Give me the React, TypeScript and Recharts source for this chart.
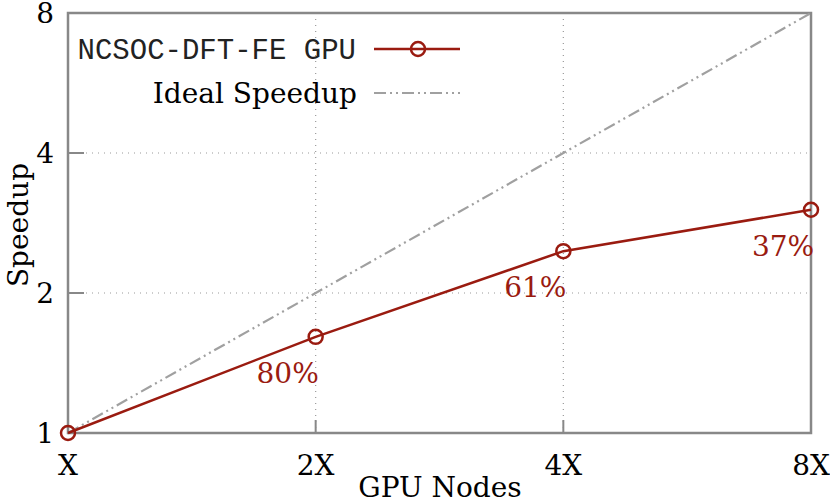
import {
  LineChart,
  Line,
  XAxis,
  YAxis,
  CartesianGrid,
  ReferenceArea,
  LabelList,
} from "recharts";

// GPU node multiples (log2 axis)
const nodes = [1, 2, 4, 8];
const nodeLabels = ["X", "2X", "4X", "8X"];
const measured = [1, 1.61, 2.46, 3.02];
const ideal = [1, 2, 4, 8];
const efficiency = ["", "80%", "61%", "37%"];
const speedupTicks = [1, 2, 4, 8];

const RED = "#9a1b10";
const GREY = "#888888";
const SERIF = "'DejaVu Serif', serif";
const MONO = "'Liberation Mono', monospace";

const data = nodes.map((n, i) => ({
  nodes: n,
  measured: measured[i],
  ideal: ideal[i],
  eff: efficiency[i],
}));

const XTick = (props: any) => {
  const { x, y, payload, index } = props;
  const inner = payload.value !== 1 && payload.value !== 8;
  return (
    <g>
      {inner && <line x1={x} y1={y} x2={x} y2={y - 13} stroke={GREY} strokeWidth={2} />}
      <text x={x} y={y + 42} textAnchor="middle" fontSize={28} fontFamily={SERIF} fill="#000">
        {nodeLabels[index]}
      </text>
    </g>
  );
};

const YTick = (props: any) => {
  const { x, y, payload } = props;
  const inner = payload.value !== 1 && payload.value !== 8;
  return (
    <g>
      {inner && <line x1={x} y1={y} x2={x + 16} y2={y} stroke={GREY} strokeWidth={2} />}
      <text x={x - 14} y={y + 10} textAnchor="end" fontSize={28} fontFamily={SERIF} fill="#000">
        {payload.value}
      </text>
    </g>
  );
};

const EffLabel = (props: any) => {
  const { x, y, value } = props;
  if (!value) return null;
  return (
    <text x={x - 28} y={y + 46} textAnchor="middle" fontSize={28} fontFamily={SERIF} fill={RED}>
      {value}
    </text>
  );
};

export default function App() {
  return (
    <div style={{ position: "relative", width: 830, height: 500 }}>
      <style>{`body{margin:0}`}</style>
      <LineChart
        width={830}
        height={500}
        data={data}
        margin={{ top: 13, right: 19, bottom: 0, left: 0 }}
      >
        <CartesianGrid stroke="#999" strokeDasharray="1 5" strokeWidth={1.2} />
        <XAxis
          dataKey="nodes"
          type="number"
          scale="log"
          domain={[1, 8]}
          ticks={nodes}
          height={67}
          axisLine={false}
          tickLine={false}
          tickSize={0}
          tickMargin={0}
          tick={<XTick />}
          interval={0}
        />
        <YAxis
          type="number"
          scale="log"
          domain={[1, 8]}
          ticks={speedupTicks}
          width={68}
          axisLine={false}
          tickLine={false}
          tickSize={0}
          tickMargin={0}
          tick={<YTick />}
          interval={0}
        />
        <ReferenceArea
          x1={1}
          x2={8}
          y1={1}
          y2={8}
          fill="none"
          fillOpacity={0}
          stroke={GREY}
          strokeWidth={2.5}
        />
        <Line
          dataKey="ideal"
          stroke="#a0a0a0"
          strokeWidth={2.2}
          strokeDasharray="12 4 2 4 2 4"
          dot={false}
          isAnimationActive={false}
        />
        <Line
          dataKey="measured"
          stroke={RED}
          strokeWidth={2.5}
          dot={{ r: 7, stroke: RED, strokeWidth: 2.5, fill: "none" }}
          isAnimationActive={false}
        >
          <LabelList dataKey="eff" content={<EffLabel />} />
        </Line>
      </LineChart>
      <svg
        width={830}
        height={500}
        style={{ position: "absolute", left: 0, top: 0, pointerEvents: "none" }}
      >
        <text x={356} y={59} textAnchor="end" fontSize={29} fontFamily={MONO} fill="#222">
          NCSOC-DFT-FE GPU
        </text>
        <line x1={374} y1={49} x2={460} y2={49} stroke={RED} strokeWidth={2.5} />
        <circle cx={418} cy={49} r={7} stroke={RED} strokeWidth={2.5} fill="none" />
        <text x={357} y={103} textAnchor="end" fontSize={28} fontFamily={SERIF} fill="#000">
          Ideal Speedup
        </text>
        <line
          x1={374}
          y1={93}
          x2={460}
          y2={93}
          stroke="#a0a0a0"
          strokeWidth={2.2}
          strokeDasharray="12 4 2 4 2 4"
        />
        <text x={440} y={497} textAnchor="middle" fontSize={28} fontFamily={SERIF} fill="#000">
          GPU Nodes
        </text>
        <text
          x={0}
          y={0}
          textAnchor="middle"
          fontSize={28}
          fontFamily={SERIF}
          fill="#000"
          transform="translate(28 225) rotate(-90)"
        >
          Speedup
        </text>
      </svg>
    </div>
  );
}
